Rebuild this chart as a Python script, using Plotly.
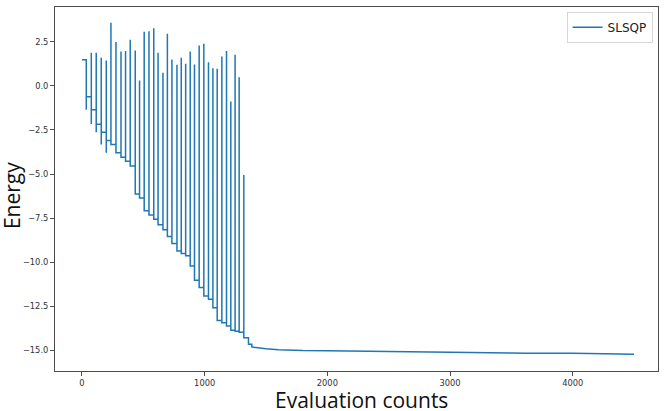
import plotly.graph_objects as go

# SLSQP energy trace
start_level = 1.48
spike_evals = [35, 76, 116, 157, 198, 236, 277, 318, 355, 393, 434, 469, 507, 546,
               585, 620, 660, 696, 733, 774, 809, 845, 882, 917, 955, 993, 1031, 1067,
               1102, 1140, 1178, 1213, 1248, 1281, 1319]
spike_tops = [0.91, 1.87, 1.87, 1.59, 1.44, 3.58, 2.48, 1.95, 1.97, 2.61, 2.0, 0.3,
              3.07, 3.09, 3.27, 1.87, 0.74, 2.95, 1.49, 1.19, 1.59, 1.25, 1.95, 1.21,
              2.29, 2.39, 1.34, 1.0, 0.97, 1.66, 1.97, -0.89, 1.76, 0.49, -5.06]
early_dips = [-1.35, -2.16, -2.63, -3.32, -3.8]
step_levels = [-0.62, -1.36, -2.18, -2.63, -3.1, -3.32, -3.8, -4.05, -4.27, -4.55,
               -6.14, -6.36, -7.09, -7.33, -7.56, -7.88, -8.16, -8.55, -8.94, -9.36,
               -9.51, -9.64, -10.21, -11.02, -11.44, -11.92, -12.1, -12.58, -13.3,
               -13.43, -13.62, -13.86, -13.92, -13.97, -14.28]
tail_evals = [1357, 1357, 1384, 1384, 1400, 1450, 1500, 1600, 1700, 1800, 2000, 2250,
              2500, 3000, 3500, 3598, 3604, 3610, 4000, 4500]
tail_energy = [-14.28, -14.66, -14.66, -14.8, -14.82, -14.87, -14.91, -14.96, -14.99,
               -15.01, -15.02, -15.05, -15.07, -15.11, -15.15, -15.15, -15.12, -15.16,
               -15.17, -15.22]

x_ticks = [0, 1000, 2000, 3000, 4000]
y_ticks = [2.5, 0.0, -2.5, -5.0, -7.5, -10.0, -12.5, -15.0]
y_labels = ["2.5", "0.0", "\u22122.5", "\u22125.0", "\u22127.5", "\u221210.0",
            "\u221212.5", "\u221215.0"]

# assemble the polyline: flat step, jump to spike, drop to the next step
xs, ys = [0], [start_level]
prev = start_level
for i, (sx, top, lvl) in enumerate(zip(spike_evals, spike_tops, step_levels)):
    xs.append(sx); ys.append(prev)
    if i < len(early_dips):
        xs.append(sx); ys.append(early_dips[i])
    xs += [sx, sx]; ys += [top, lvl]
    prev = lvl
xs += tail_evals
ys += tail_energy

fig = go.Figure()
fig.add_trace(go.Scatter(x=xs, y=ys, mode="lines", name="SLSQP",
                         line=dict(color="#1f77b4", width=1.5)))

axis_common = dict(showgrid=False, zeroline=False, showline=True, mirror=True,
                   linecolor="#4d4d4d", linewidth=1, ticks="outside", ticklen=4,
                   tickcolor="#4d4d4d",
                   tickfont=dict(family="DejaVu Sans", size=8.3, color="#333333"))
fig.update_xaxes(range=[-220, 4695], tickvals=x_ticks, **axis_common)
fig.update_yaxes(range=[-16.17, 4.47], tickvals=y_ticks, ticktext=y_labels, **axis_common)

fig.update_layout(
    width=665, height=411,
    margin=dict(l=55, r=7, t=7, b=40),
    paper_bgcolor="white", plot_bgcolor="white",
    showlegend=True,
    legend=dict(x=0.991, y=0.987, xanchor="right", yanchor="top",
                bordercolor="#d6d6d6", borderwidth=1, bgcolor="white",
                font=dict(family="DejaVu Sans", size=12, color="#222222")),
    annotations=[
        dict(text="Evaluation counts", xref="paper", yref="paper", x=0.509, y=0,
             xanchor="center", yanchor="top", yshift=-13, showarrow=False,
             font=dict(family="Open Sans", size=21, color="#111111")),
        dict(text="Energy", xref="paper", yref="paper", x=-0.071, y=0.481,
             xanchor="center", yanchor="middle", textangle=-90, showarrow=False,
             font=dict(family="Open Sans", size=21, color="#111111")),
    ],
)

# page body has an 8px default margin; drop it so the figure sits at the corner
fig.write_html("out.html", config={"displayModeBar": False},
               post_script="document.body.style.margin='0px';")
